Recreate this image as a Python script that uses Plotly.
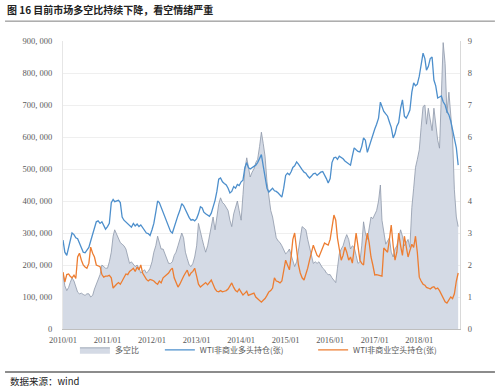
import plotly.graph_objects as go

# semi-monthly observations, 2010/01 .. 2018/11 (1st and 16th of each month)
dates = [f"{2010 + m // 12}-{m % 12 + 1:02d}-{d:02d}" for m in range(107) for d in (1, 16)]

long_k = [278,240, 230,255, 275,300, 295,285, 282,270, 255,240, 238,248, 255,275, 295,320, 335,338,
          330,335, 325,312, 320,330, 395,405, 398,400, 402,395, 350,340, 335,330, 325,318, 330,322,
          328,320, 325,318, 310,300, 298,292, 310,330, 365,400, 395,380, 365,352, 340,325, 305,300,
          320,335, 355,370, 392,385, 372,360, 348,340, 342,338, 345,360, 382,378, 365,360, 355,352,
          362,380, 402,430, 468,472, 460,455, 450,440, 425,430, 445,440, 452,448, 460,465, 505,520,
          505,500, 505,510, 512,520, 535,545, 510,475, 440,428, 435,440, 432,430, 425,420, 412,440,
          480,487, 482,492, 505,510, 522,515, 505,498, 490,487, 478,472, 478,485, 487,480, 485,490,
          492,482, 470,456, 470,520, 535,537, 530,540, 537,532, 525,520, 515,512, 540,566, 560,555,
          553,570, 597,590, 552,570, 590,612, 625,640, 659,709, 695,680, 672,665, 647,630, 597,610,
          634,645, 690,716, 665,659, 670,684, 740,769, 760,765, 790,830, 862,845, 809,820, 845,850,
          778,760, 722,725, 728,710, 700,680, 669,650, 622,600, 566,512]

short_k = [178,147, 170,172, 165,160, 168,158, 225,237, 215,200, 194,190, 205,256, 237,225, 200,198,
           195,170, 162,165, 165,168, 160,128, 135,140, 145,140, 150,160, 172,170, 180,184, 190,180,
           194,185, 200,175, 162,155, 150,155, 153,150, 144,140, 150,144, 160,165, 169,175, 185,190,
           160,145, 131,140, 155,165, 175,184, 165,175, 180,190, 165,140, 131,135, 140,145, 138,145,
           153,140, 125,118, 116,120, 116,118, 120,125, 135,144, 130,120, 116,125, 115,106, 112,118,
           105,108, 110,112, 100,95, 88,84, 90,95, 105,116, 120,128, 160,150, 148,144, 150,180,
           215,200, 185,230, 280,300, 240,200, 175,160, 153,170, 190,215, 240,262, 245,230, 225,240,
           255,269, 265,262, 280,320, 356,340, 284,250, 215,230, 256,240, 215,225, 206,250, 300,260,
           215,205, 200,260, 300,270, 225,200, 169,170, 168,165, 165,253, 245,240, 280,325, 260,215,
           240,300, 260,230, 290,260, 225,245, 265,255, 290,240, 162,150, 140,137, 130,128, 125,130,
           132,125, 128,120, 110,97, 85,81, 90,100, 95,110, 150,175]

ratio = [1.75,1.35, 1.2,1.3, 1.45,1.6, 1.5,1.3, 1.15,1.1, 1.12,1.08, 1.05,1.1, 1.1,1.0, 1.05,1.25, 1.4,1.5,
         1.7,2.0, 1.95,1.9, 1.9,2.1, 2.4,2.9, 3.1,2.95, 2.8,2.7, 2.65,2.6, 2.5,2.3, 2.05,2.1, 2.0,1.95,
         2.0,1.9, 1.75,1.8, 1.85,1.75, 1.8,1.9, 2.1,2.4, 2.6,2.9, 2.7,2.5, 2.5,2.35, 2.2,2.05, 2.05,2.1,
         2.3,2.4, 2.6,2.8, 3.0,2.85, 2.4,2.2, 2.0,1.95, 2.05,2.25, 2.6,3.3, 3.0,2.8, 2.6,2.4, 2.6,2.9,
         3.3,3.5, 3.1,3.5, 3.9,4.1, 3.95,3.9, 3.8,3.7, 3.4,3.2, 3.6,3.8, 4.0,3.7, 3.4,4.2, 5.0,5.35,
         5.0,4.75, 4.9,5.0, 5.2,5.3, 5.7,6.15, 5.8,5.4, 4.6,4.1, 3.7,3.5, 3.1,2.85, 2.75,2.7, 2.6,2.5,
         2.35,2.4, 2.5,2.3, 2.1,1.95, 2.1,2.5, 2.9,3.2, 3.15,3.1, 2.8,2.55, 2.3,2.05, 2.1,2.05, 2.1,2.0,
         1.9,1.85, 1.75,1.7, 1.7,1.6, 1.5,1.45, 1.9,2.35, 2.5,2.6, 2.8,2.95, 2.8,2.5, 2.6,2.55, 2.3,2.05,
         2.1,2.6, 3.35,3.0, 2.8,3.1, 3.5,3.45, 3.6,3.7, 4.0,4.5, 3.4,3.0, 2.65,2.75, 2.85,2.4, 2.25,2.5,
         2.6,2.85, 3.1,2.9, 2.6,2.7, 2.8,2.55, 3.8,4.4, 5.05,5.3, 5.6,6.3, 6.95,7.0, 6.4,6.9, 6.5,6.2,
         6.9,6.3, 5.9,5.65, 7.55,8.95, 8.3,6.75, 7.4,6.7, 6.0,4.35, 3.5,3.2]

tick_dates = [f"{y}-01-01" for y in range(2010, 2019)]
tick_labels = [f"{y}/01" for y in range(2010, 2019)]
left_ticks = list(range(0, 900001, 100000))
left_labels = ["0"] + [f"{v // 1000}, 000" for v in left_ticks[1:]]
right_ticks = list(range(0, 10))

long_v = [v * 1000 for v in long_k]
short_v = [v * 1000 for v in short_k]

FONT = "Liberation Serif, Noto Sans CJK SC, serif"
CJK = "Noto Sans CJK SC, Liberation Serif, serif"

fig = go.Figure()
fig.add_trace(go.Scatter(x=dates, y=ratio, name="多空比", mode="lines", fill="tozeroy",
                         line=dict(color="#8e98aa", width=0.8), fillcolor="#d4dae5",
                         yaxis="y", legend="legend"))
fig.add_trace(go.Scatter(x=dates, y=long_v, name="WTI非商业多头持仓(张)", mode="lines",
                         line=dict(color="#4d8fcc", width=1.3), yaxis="y2", legend="legend2"))
fig.add_trace(go.Scatter(x=dates, y=short_v, name="WTI非商业空头持仓(张)", mode="lines",
                         line=dict(color="#ed7d31", width=1.3), yaxis="y2", legend="legend3"))

leg = dict(orientation="h", xanchor="left", y=-0.022, yanchor="top",
           font=dict(family=CJK, size=8, color="#595959"),
           itemwidth=30, bgcolor="rgba(0,0,0,0)")

fig.update_layout(
    width=499, height=387,
    margin=dict(l=63, r=39, t=41, b=58, autoexpand=False),
    paper_bgcolor="white", plot_bgcolor="white",
    font=dict(family=FONT, size=9, color="#595959"),
    showlegend=True,
    legend=dict(leg, x=0.030),
    legend2=dict(leg, x=0.244),
    legend3=dict(leg, x=0.630),
    xaxis=dict(type="date", range=["2010-01-01", "2018-12-01"],
               tickvals=tick_dates, ticktext=tick_labels, tickangle=0,
               showgrid=False, showline=True, linecolor="#bfbfbf", linewidth=1,
               ticks="", tickfont=dict(size=8.5, color="#595959"), mirror=False,
               ticklabelstandoff=3),
    yaxis=dict(side="right", range=[0, 9], tickvals=right_ticks,
               showgrid=True, gridcolor="#efefef", gridwidth=1,
               showline=True, linecolor="#d9d9d9", ticks="", zeroline=False,
               tickfont=dict(size=8.5, color="#595959"), ticklabelstandoff=5),
    yaxis2=dict(overlaying="y", side="left", range=[0, 900000], tickvals=left_ticks,
                ticktext=left_labels, showgrid=False, showline=True, linecolor="#e6e6e6",
                ticks="", zeroline=False, tickfont=dict(size=8.5, color="#595959"),
                ticklabelstandoff=8),
    annotations=[
        dict(text="<b>图 16 目前市场多空比持续下降，看空情绪严重</b>", xref="paper", yref="paper",
             x=-0.146, y=1.108, xanchor="left", yanchor="middle", showarrow=False,
             font=dict(family=CJK, size=10, color="#222222")),
        dict(text="数据来源：wind", xref="paper", yref="paper",
             x=-0.139, y=-0.181, xanchor="left", yanchor="middle", showarrow=False,
             font=dict(family=CJK, size=9.5, color="#222222")),
    ],
    shapes=[
        dict(type="line", xref="paper", yref="paper", x0=-0.146, x1=1.088, y0=1.069, y1=1.069,
             line=dict(color="#7f7f7f", width=1)),
        dict(type="line", xref="paper", yref="paper", x0=-0.146, x1=1.088, y0=-0.149, y1=-0.149,
             line=dict(color="#8c8c8c", width=2)),
    ],
)

fig.write_html("out.html", config={"displayModeBar": False},
               post_script="document.body.style.margin='0';document.body.style.overflow='hidden';")
